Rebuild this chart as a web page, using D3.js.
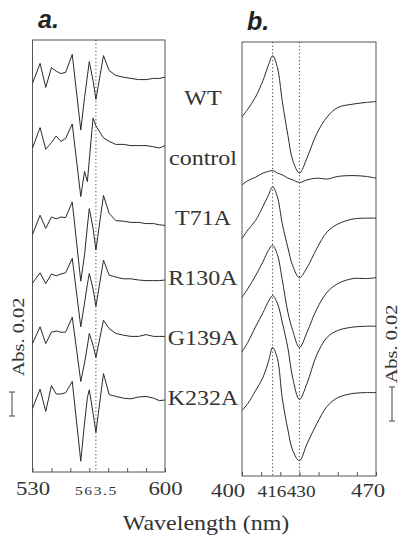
<!DOCTYPE html>
<html>
<head>
<meta charset="utf-8">
<script src="https://cdn.jsdelivr.net/npm/d3@7"></script>
<style>
  body { margin: 0; background: #fff; }
  svg { display: block; font-family: "Liberation Serif", "Times New Roman", serif; }
  .frame { fill: none; stroke: #555; stroke-width: 1; }
  .trace { fill: none; stroke: #2a2a2a; stroke-width: 1; }
  .guide { stroke: #444; stroke-width: 1; stroke-dasharray: 1.2,2.4; }
  .axis path { display: none; }
  .axis line { stroke: #555; }
  .axis text { fill: #333; font-family: "Liberation Serif", "Times New Roman", serif; }
  .label { fill: #333; }
  .panel { font-family: "Liberation Sans", Arial, sans-serif; font-weight: bold; font-style: italic; font-size: 25px; fill: #222; }
</style>
</head>
<body>
<div class="chart"></div>
<script>
// DATA ---------------------------------------------------------------

const mutants = ['WT', 'control', 'T71A', 'R130A', 'G139A', 'K232A'];

// panel a: 530-600 nm, values in mAbs around each trace's own baseline
const wavelengthA = [530, 534, 537, 540, 542.5, 545, 547.5, 551, 555.5, 557.5, 559, 560,
                     562, 563.5, 567.5, 570.5, 574, 578, 582, 586, 590, 594, 597, 600];
const baselineA = [328, 272, 208, 160, 113, 61];
const wtA      = [-4, 12.5, -7.5, 9, 6, 4, 5, 20, -43, -16, 2, 14, -2, -17.5, 19, 6.5, 2.5, 1, 0, -1, -1, 0, 0, 1];
const controlA = [-2, 15, -3, 2.5, 8, 3.5, 6, 18, -42.5, -21.5, -30, -12, 23, 16.5, 6.5, 3.5, 1, 1, 0, 0, 0, -1, -2, 0];
const t71aA    = [-10, 6, -5, 4.5, 3, 4.5, 4, 17, -49, -27, -3, 11.5, -5, -23, 22.5, 7.5, 1.5, 1, 0, 0, -1, -1, -2, -2.5];
const r130aA   = [-2.5, 6, -3, 5, 3.5, 5, 6, 18, -39, -19, -3.5, 5.5, -7.5, -22, 16.5, 4, 2.5, 1, 1, 0, -0.5, -0.5, -0.5, 0];
const g139aA   = [-6, 8, -6, 3.5, 4.5, 3.5, 3.5, 16, -37.5, -22, -8, 2.5, -7.5, -17.5, 13.5, 6.5, 2.5, 1, 0, 0, 1.5, 0, 0, 0];
const k232aA   = [-8, 8, -10.5, 11, 4, 4, 5, 14.5, -52, -20, 1, 7.5, -12, -28, 21, 3.5, 2, 0.5, 0, 1.5, 2, 0.5, -1.5, -1];
const tracesA = [wtA, controlA, t71aA, r130aA, g139aA, k232aA];

// panel b: 400-470 nm
const wavelengthB = [400, 403, 407, 411, 414, 416, 418.5, 421, 424, 426.5, 430, 434, 439, 444.5, 450, 458, 465, 470];
const baselineB = [220, 175, 151.5, 116.5, 88, 49];
const wtB      = [-9, -4.5, 2.5, 12.5, 22, 27, 20, 0.5, -20, -34.5, -42, -33, -19, -9, -3.5, -1.5, -0.5, 0];
const controlB = [-4, -1.5, 0.5, 3, 4, 4.5, 3, 2, 0, -1, -2.5, -1, 0, -0.5, 1, 1.5, 1, 0];
const t71aB    = [-12, -7, -1.5, 7, 14, 18.5, 12.5, -3, -17.5, -28, -35, -29, -18, -8, -3.5, -0.5, 0, 0];
const r130aB   = [-11.5, -6.5, 1, 9.5, 16.5, 19, 13.5, -1, -20.5, -31, -41, -32, -18.5, -8.5, -3.5, -0.5, -0.5, 0];
const g139aB   = [-15, -9.5, -0.5, 8, 15, 18, 13.5, 2.5, -13, -30.5, -43, -33.5, -17, -6.5, -2.5, -0.5, 0, 0];
const k232aB   = [-10.5, -6.5, 1, 9, 19, 26.5, 20, -3, -22, -34, -40, -30, -18.5, -8, -3, -0.5, 0, 0];
const tracesB = [wtB, controlB, t71aB, r130aB, g139aB, k232aB];

// markers and ticks
const guidesA = [563.5];
const guidesB = [416, 430];
const ticksA = [530, 540, 550, 560, 570, 580, 590, 600];
const ticksB = [400, 410, 420, 430, 440, 450, 460, 470];
const labelsA = [530, 563.5, 600];
const labelsB = [400, 416, 430, 470];
const scaleBar = 20; // mAbs = Abs. 0.02

// CHART INIT ---------------------------------------------------------

const width = 402, height = 539;
const boxA = {left: 32.5, right: 165, top: 40, bottom: 472};
const boxB = {left: 242, right: 376, top: 42, bottom: 476};
const stretch = 1.2; // the scanned type is wider than Times

const svg = d3.select('.chart')
    .append('svg')
    .attr('width', width)
    .attr('height', height);

const xA = d3.scaleLinear().domain([530, 600]).range([boxA.left, boxA.right]);
const yA = d3.scaleLinear().domain([0, 360]).range([boxA.bottom, boxA.top]);
const xB = d3.scaleLinear().domain([400, 470]).range([boxB.left, boxB.right]);
const yB = d3.scaleLinear().domain([0, 255]).range([boxB.bottom, boxB.top]);

// frames
[boxA, boxB].forEach(b => {
    svg.append('rect')
        .attr('class', 'frame')
        .attr('x', b.left).attr('y', b.top)
        .attr('width', b.right - b.left)
        .attr('height', b.bottom - b.top);
});

// dotted guide lines
svg.selectAll('.guide-a')
    .data(guidesA)
    .enter().append('line')
    .attr('class', 'guide')
    .attr('x1', d => xA(d)).attr('x2', d => xA(d))
    .attr('y1', boxA.top).attr('y2', boxA.bottom);

svg.selectAll('.guide-b')
    .data(guidesB)
    .enter().append('line')
    .attr('class', 'guide')
    .attr('x1', d => xB(d)).attr('x2', d => xB(d))
    .attr('y1', boxB.top).attr('y2', boxB.bottom);

// traces
const lineA = d3.line().x(d => xA(d[0])).y(d => yA(d[1]));
const lineB = d3.line().x(d => xB(d[0])).y(d => yB(d[1])).curve(d3.curveCatmullRom.alpha(0.5));

mutants.forEach((m, i) => {
    svg.append('path')
        .attr('class', 'trace')
        .attr('d', lineA(wavelengthA.map((w, j) => [w, baselineA[i] + tracesA[i][j]])));
    svg.append('path')
        .attr('class', 'trace')
        .attr('d', lineB(wavelengthB.map((w, j) => [w, baselineB[i] + tracesB[i][j]])));
});

// axes: inward minor ticks, then labels
svg.append('g')
    .attr('class', 'axis')
    .attr('transform', 'translate(0,' + boxA.bottom + ')')
    .call(d3.axisBottom(xA).tickValues(ticksA).tickSize(-4).tickFormat(''));

svg.append('g')
    .attr('class', 'axis')
    .attr('transform', 'translate(0,' + boxB.bottom + ')')
    .call(d3.axisBottom(xB).tickValues(ticksB).tickSize(-4).tickFormat(''));

svg.append('g')
    .attr('class', 'axis')
    .attr('transform', 'translate(0,' + boxA.bottom + ')')
    .call(d3.axisBottom(xA).tickValues(labelsA).tickSize(0).tickFormat(d => d))
    .call(g => g.selectAll('text')
        .attr('y', 23).attr('dy', null)
        .attr('transform', 'scale(' + stretch + ',1)')
        .style('font-size', d => d === 563.5 ? '13px' : '19px')
        .style('letter-spacing', d => d === 563.5 ? '1.3px' : null));

const shiftB = {400: -12, 416: -1, 430: 1, 470: -7};
svg.append('g')
    .attr('class', 'axis')
    .attr('transform', 'translate(0,' + boxB.bottom + ')')
    .call(d3.axisBottom(xB).tickValues(labelsB).tickSize(0).tickFormat(d => d))
    .call(g => g.selectAll('text')
        .attr('y', 21).attr('dy', null)
        .attr('dx', d => shiftB[d])
        .attr('transform', 'scale(' + stretch + ',1)')
        .style('font-size', d => (d === 416 || d === 430) ? '16px' : '19px'));

// stretched text helper
function label(x, y, txt, size, rot) {
    return svg.append('text')
        .attr('class', 'label')
        .attr('transform', 'translate(' + x + ',' + y + ')' + (rot ? ' rotate(' + rot + ')' : '') + ' scale(' + stretch + ',1)')
        .attr('text-anchor', 'middle')
        .style('font-size', size + 'px')
        .text(txt);
}

// axis title
label(206, 530, 'Wavelength (nm)', 20);

// mutant names between panels
mutants.forEach((m, i) => label(203, 105 + i * 60, m, 20));

// panel letters
svg.append('text').attr('class', 'panel').attr('x', 38).attr('y', 28).text('a.');
svg.append('text').attr('class', 'panel').attr('x', 247).attr('y', 30).text('b.');

// scale bars
function scaleBarAt(x, yMid, len, textX, textY) {
    const g = svg.append('g').attr('stroke', '#444').attr('stroke-width', 1);
    g.append('line').attr('x1', x).attr('x2', x).attr('y1', yMid - len / 2).attr('y2', yMid + len / 2);
    g.append('line').attr('x1', x - 3).attr('x2', x + 3).attr('y1', yMid - len / 2).attr('y2', yMid - len / 2);
    g.append('line').attr('x1', x - 3).attr('x2', x + 3).attr('y1', yMid + len / 2).attr('y2', yMid + len / 2);
    label(textX, textY, 'Abs. 0.02', 17, -90);
}
scaleBarAt(12, 404, yA(0) - yA(scaleBar), 24, 337);
scaleBarAt(392, 404, yB(0) - yB(scaleBar), 397, 344);
</script>
</body>
</html>
